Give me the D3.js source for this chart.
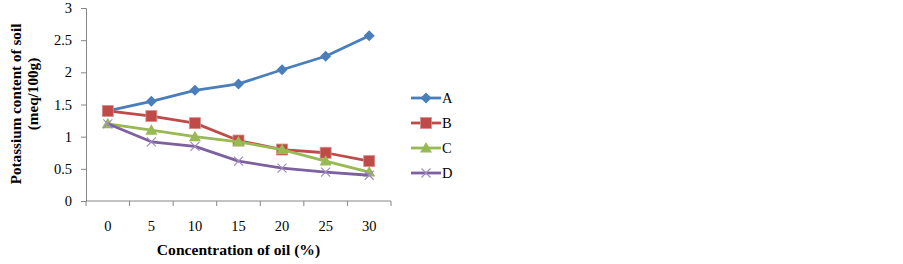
<!DOCTYPE html>
<html>
<head>
<meta charset="utf-8">
<script src="https://cdn.jsdelivr.net/npm/d3@7"></script>
<style>
  body { margin: 0; background: #fff; }
  text { font-family: "Liberation Serif", "Times New Roman", serif; }
</style>
</head>
<body>
<div id="chart"></div>
<script>
// concentrations of oil (%) on the x axis
const concentrations = ["0", "5", "10", "15", "20", "25", "30"];
const yTicks = [0, 0.5, 1, 1.5, 2, 2.5, 3];

// potassium content of soil (meq/100g)
const seriesA = [1.40, 1.55, 1.72, 1.82, 2.04, 2.25, 2.57];
const seriesB = [1.40, 1.32, 1.21, 0.94, 0.80, 0.75, 0.62];
const seriesC = [1.20, 1.10, 1.00, 0.92, 0.80, 0.62, 0.45];
const seriesD = [1.20, 0.92, 0.85, 0.62, 0.51, 0.45, 0.40];
const seriesNames = ["A", "B", "C", "D"];

const series = [
  { name: seriesNames[0], values: seriesA, color: "#4A7EBB", marker: "diamond" },
  { name: seriesNames[1], values: seriesB, color: "#BE4B48", marker: "square" },
  { name: seriesNames[2], values: seriesC, color: "#98B954", marker: "triangle" },
  { name: seriesNames[3], values: seriesD, color: "#7D60A0", marker: "cross" }
];

const width = 903, height = 264;
const margin = { top: 8, left: 86, right: 512, bottom: 63 };
const innerW = width - margin.left - margin.right;
const innerH = height - margin.top - margin.bottom;

const svg = d3.select("#chart").append("svg")
  .attr("width", width)
  .attr("height", height);

const g = svg.append("g")
  .attr("transform", `translate(${margin.left},${margin.top})`);

const x = d3.scaleBand()
  .domain(concentrations)
  .range([0, innerW]);

const y = d3.scaleLinear()
  .domain([0, 3])
  .range([innerH, 0]);

const axisColor = "#868686";

// x axis: ticks between categories, like a spreadsheet category axis
const xAxis = g.append("g")
  .attr("transform", `translate(0,${innerH})`);
xAxis.append("line")
  .attr("x1", 0).attr("x2", innerW)
  .attr("stroke", axisColor);
const bounds = concentrations.map(c => x(c)).concat([innerW]);
xAxis.selectAll(".xt")
  .data(bounds)
  .enter().append("line")
  .attr("x1", d => d).attr("x2", d => d)
  .attr("y1", 0).attr("y2", 5)
  .attr("stroke", axisColor);
xAxis.selectAll(".xl")
  .data(concentrations)
  .enter().append("text")
  .attr("x", d => x(d) + x.bandwidth() / 2)
  .attr("y", 30)
  .attr("text-anchor", "middle")
  .attr("font-size", 14.5)
  .text(d => d);

// y axis
const yAxis = g.append("g")
  .call(d3.axisLeft(y).tickValues(yTicks).tickSize(5).tickPadding(9).tickFormat(d => d));
yAxis.select(".domain").attr("stroke", axisColor);
yAxis.selectAll(".tick line").attr("stroke", axisColor);
yAxis.selectAll(".tick text")
  .attr("font-family", "Liberation Serif, serif")
  .attr("font-size", 14.5)
  .attr("fill", "#000");

// lines
const line = d3.line()
  .x((d, i) => x(concentrations[i]) + x.bandwidth() / 2)
  .y(d => y(d));

function drawMarker(sel, type, color) {
  if (type === "diamond") {
    sel.append("path").attr("d", "M0,-5.5L5.5,0L0,5.5L-5.5,0Z").attr("fill", color);
  } else if (type === "square") {
    sel.append("rect").attr("x", -5.5).attr("y", -5.5).attr("width", 11).attr("height", 11)
      .attr("fill", color).attr("stroke", "#D88E8C").attr("stroke-width", 0.8);
  } else if (type === "triangle") {
    sel.append("path").attr("d", "M0,-6L6,4.5L-6,4.5Z").attr("fill", color);
  } else {
    sel.append("path").attr("d", "M-4.5,-4.5L4.5,4.5M-4.5,4.5L4.5,-4.5")
      .attr("stroke", "#A08BC0").attr("stroke-width", 1.2).attr("fill", "none");
  }
}

series.forEach(s => {
  g.append("path")
    .datum(s.values)
    .attr("fill", "none")
    .attr("stroke", s.color)
    .attr("stroke-width", 2.8)
    .attr("stroke-linejoin", "round")
    .attr("d", line);
  g.selectAll(null)
    .data(s.values)
    .enter().append("g")
    .attr("transform", (d, i) => `translate(${x(concentrations[i]) + x.bandwidth() / 2},${y(d)})`)
    .each(function () { drawMarker(d3.select(this), s.marker, s.color); });
});

// axis titles
svg.append("text")
  .attr("x", margin.left + innerW / 2)
  .attr("y", 255)
  .attr("text-anchor", "middle")
  .attr("font-size", 15.6)
  .attr("font-weight", "bold")
  .text("Concentration of oil (%)");

svg.append("text")
  .attr("transform", "translate(21,104) rotate(-90)")
  .attr("text-anchor", "middle")
  .attr("font-size", 15.2)
  .attr("font-weight", "bold")
  .text("Potassium content of soil");
svg.append("text")
  .attr("transform", "translate(38,94) rotate(-90)")
  .attr("text-anchor", "middle")
  .attr("font-size", 15.2)
  .attr("font-weight", "bold")
  .text("(meq/100g)");

// legend
const legend = svg.append("g").attr("transform", "translate(411,98)");
series.forEach((s, i) => {
  const row = legend.append("g").attr("transform", `translate(0,${i * 25})`);
  row.append("line")
    .attr("x1", 0).attr("x2", 30)
    .attr("stroke", s.color).attr("stroke-width", 2.8);
  drawMarker(row.append("g").attr("transform", "translate(15,0)"), s.marker, s.color);
  row.append("text")
    .attr("x", 31).attr("y", 5)
    .attr("font-size", 14.5)
    .text(s.name);
});
</script>
</body>
</html>
